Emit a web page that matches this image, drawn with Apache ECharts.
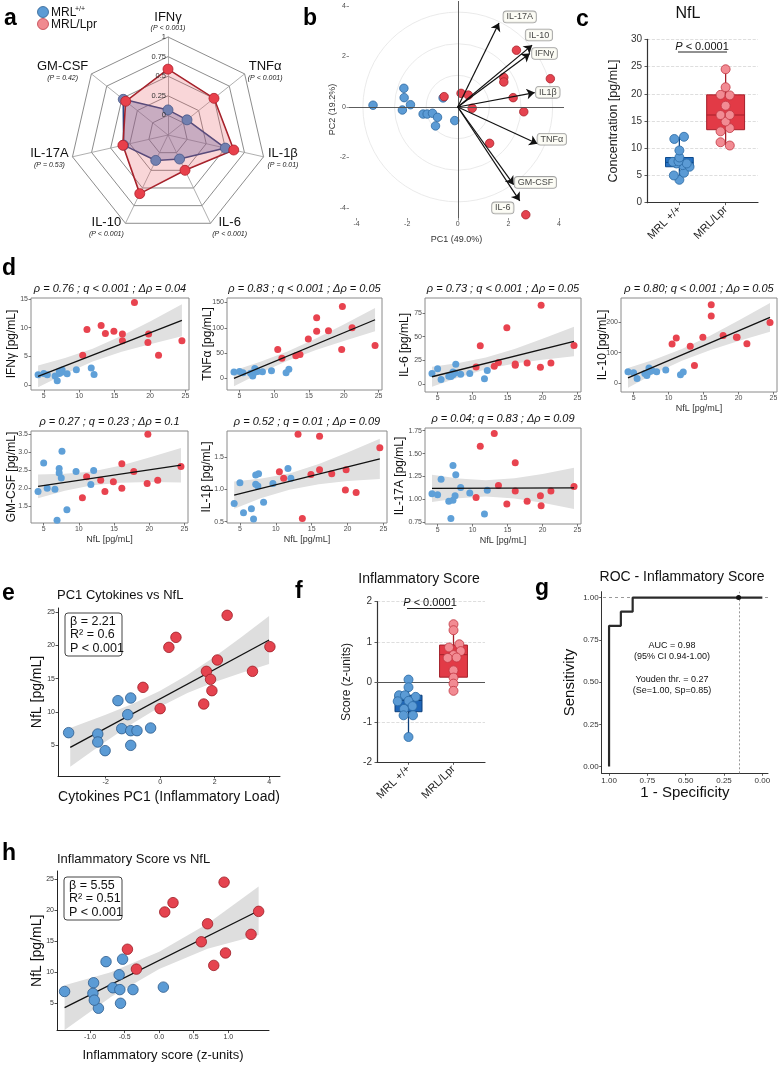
<!DOCTYPE html>
<html>
<head>
<meta charset="utf-8">
<script src="https://cdn.jsdelivr.net/npm/echarts@6/dist/echarts.min.js"></script>
<style>
  html, body { margin: 0; padding: 0; background: #fff; }
  #main { width: 779px; height: 1068px; }
</style>
</head>
<body>
<div id="main"></div>
<script>
// ---- a: radar (scaled 0-1) ----
const radarAxes = ['IFNγ', 'TNFα', 'IL-1β', 'IL-6', 'IL-10', 'IL-17A', 'GM-CSF']
const radarP = ['P < 0.001', 'P < 0.001', 'P = 0.01', 'P < 0.001', 'P < 0.001', 'P = 0.53', 'P = 0.42']
const radarMrl = [0.07, 0.06, 0.5, 0.09, 0.11, 0.33, 0.48]
const radarLpr = [0.59, 0.5, 0.61, 0.25, 0.58, 0.34, 0.44]
const radarTicks = [0, 0.25, 0.5, 0.75, 1]

// ---- b: PCA ----
const pcaMrl = [[-3.35, 0.07], [-2.13, 0.74], [-2.12, 0.37], [-1.87, 0.09], [-2.19, -0.12], [-1.37, -0.28], [-1.21, -0.28],
  [-1.0, -0.25], [-0.8, -0.41], [-0.88, -0.75], [-0.12, -0.54], [-0.58, 0.36]]
const pcaLpr = [[-0.54, 0.41], [0.13, 0.54], [0.42, 0.47], [0.57, -0.05], [2.32, 2.25], [1.82, 1.17], [1.82, 0.99],
  [2.19, 0.37], [2.61, -0.19], [1.26, -1.44], [2.69, -4.27], [3.66, 1.12]]
const loadNames = ['IL-17A', 'IL-10', 'IFNγ', 'IL1β', 'TNFα', 'GM-CSF', 'IL-6']
const loadXY = [[1.63, 3.33], [2.94, 2.45], [2.85, 2.12], [3.04, 0.57], [3.15, -1.46], [2.21, -3.08], [2.45, -3.72]]
const loadLabelXY = [[2.45, 3.57], [3.21, 2.85], [3.43, 2.12], [3.56, 0.58], [3.72, -1.28], [3.07, -2.99], [1.78, -4.0]]
const pcaRings = [1.25, 2.5, 3.75]
const pcaTicks = [-4, -2, 0, 2, 4]

// ---- c: NfL ----
const groups = ['MRL +/+', 'MRL/Lpr']
const nflMrl = [4.2, 5.0, 5.5, 6.6, 6.9, 7.2, 7.2, 7.5, 7.6, 8.3, 9.6, 11.7, 12.1]
const nflLpr = [10.5, 11.1, 13.1, 13.7, 14.9, 16.1, 16.1, 17.8, 19.7, 19.8, 21.2, 24.5]
const nflJitMrl = [0, -0.12, 0.1, 0.22, 0.07, 0.16, -0.06, -0.14, -0.02, 0, 0, -0.11, 0.1]
const nflJitLpr = [0.09, -0.11, -0.11, 0.09, 0, -0.11, 0.09, 0, 0.09, -0.11, 0, 0]
const nflBox = [[4.2, 6.6, 7.4, 8.3, 12.1], [10.5, 13.4, 16.1, 19.8, 24.5]]

// ---- d: cytokines vs NfL ----
const nflTicks = [5, 10, 15, 20, 25]
const bandX = [4.2, 8, 11.9, 16, 20, 24.5]
const ifngMrl = [1.75, 2.0, 1.75, 1.55, 0.7, 2.0, 2.4, 2.2, 2.6, 1.95, 2.65, 2.95, 1.8]
const ifngLpr = [5.2, 9.7, 10.4, 9.0, 9.4, 8.9, 7.7, 14.4, 7.4, 8.9, 5.2, 7.7]
const ifngFit = [1.5, 11.3]
const ifngLo = [-0.4, 1.9, 4.1, 5.8, 7.1, 8.5]
const ifngHi = [3.4, 4.7, 6.3, 8.6, 11.1, 14.1]
const tnfMrl = [12.5, 13.5, 11, 10, 4.5, 19.5, 12, 14.5, 13.5, 13, 15, 11, 18]
const tnfLpr = [57, 40, 45, 47, 78, 120, 93, 94, 57, 142, 100, 65]
const tnfFit = [0, 116]
const tnfLo = [-15.8, 10.4, 34.8, 55.9, 73.9, 93]
const tnfHi = [15.8, 33, 53.2, 78.9, 106.7, 139]
const il6Mrl = [11.5, 16.5, 5, 8.5, 8.3, 13, 10, 12, 21, 10.5, 11.5, 6, 14.5]
const il6Lpr = [18.3, 40.4, 19, 23, 59.5, 21.4, 20, 22.5, 18, 83, 22.5, 40.8]
const il6Fit = [8, 45]
const il6Lo = [-2.5, 7.3, 15.8, 21.8, 25.8, 29.5]
const il6Hi = [18.5, 22.5, 28.2, 37.2, 47.8, 60.5]
const il10Mrl = [38, 35, 16, 32, 26, 50, 38, 40, 43, 38, 44, 28, 37]
const il10Lpr = [128, 148, 121, 58, 150, 256, 219, 156, 150, 150, 129, 198]
const il10Fit = [18, 215]
const il10Lo = [-14, 31.9, 73.7, 109, 137.8, 168]
const il10Hi = [50, 77.9, 111.7, 155.8, 204.8, 262]
const gmMrl = [1.91, 2.70, 2.0, 1.97, 1.11, 2.55, 2.42, 2.28, 3.03, 1.40, 2.46, 2.1, 2.49]
const gmLpr = [1.73, 2.32, 2.22, 1.91, 2.18, 2.68, 2.0, 2.46, 2.13, 3.5, 2.22, 2.6]
const gmFit = [2.05, 2.64]
const gmLo = [1.72, 1.93, 2.08, 2.15, 2.17, 2.16]
const gmHi = [2.38, 2.40, 2.46, 2.63, 2.85, 3.12]
const il1bMrl = [0.78, 1.10, 0.64, 0.70, 0.54, 1.22, 1.08, 1.05, 1.24, 0.80, 1.09, 1.32, 1.17]
const il1bLpr = [1.27, 1.17, 1.85, 0.55, 1.23, 1.30, 1.82, 1.24, 0.99, 1.30, 0.95, 1.64]
const il1bFit = [0.91, 1.47]
const il1bLo = [0.70, 0.865, 0.995, 1.08, 1.13, 1.16]
const il1bHi = [1.12, 1.165, 1.245, 1.39, 1.57, 1.78]
const il17Mrl = [1.06, 1.05, 1.22, 0.98, 0.79, 1.37, 0.99, 1.04, 1.27, 1.13, 1.07, 0.84, 1.10]
const il17Lpr = [1.02, 1.58, 1.72, 1.15, 0.95, 1.40, 1.09, 0.98, 1.04, 0.93, 1.09, 1.14]
const il17Fit = [1.12, 1.125]
const il17Lo = [0.97, 1.012, 1.032, 1.01, 0.963, 0.895]
const il17Hi = [1.27, 1.228, 1.208, 1.23, 1.277, 1.345]

const dNames = ['IFNγ', 'TNFα', 'IL-6', 'IL-10', 'GM-CSF', 'IL-1β', 'IL-17A']
const dTitles = ['ρ = 0.76 ; q < 0.001 ; Δρ = 0.04', 'ρ = 0.83 ; q < 0.001 ; Δρ = 0.05', 'ρ = 0.73 ; q < 0.001 ; Δρ = 0.05',
  'ρ = 0.80; q < 0.001 ; Δρ = 0.05', 'ρ = 0.27 ; q = 0.23 ; Δρ = 0.1', 'ρ = 0.52 ; q = 0.01 ; Δρ = 0.09', 'ρ = 0.04; q = 0.83 ; Δρ = 0.09']
const dMrl = [ifngMrl, tnfMrl, il6Mrl, il10Mrl, gmMrl, il1bMrl, il17Mrl]
const dLpr = [ifngLpr, tnfLpr, il6Lpr, il10Lpr, gmLpr, il1bLpr, il17Lpr]
const dFit = [ifngFit, tnfFit, il6Fit, il10Fit, gmFit, il1bFit, il17Fit]
const dLo = [ifngLo, tnfLo, il6Lo, il10Lo, gmLo, il1bLo, il17Lo]
const dHi = [ifngHi, tnfHi, il6Hi, il10Hi, gmHi, il1bHi, il17Hi]
const dYRange = [[-0.9, 15.2], [-23, 159], [-8, 90.6], [-28, 278], [1.03, 3.59], [0.48, 1.9], [0.73, 1.78]]
const dYTicks = [[0, 5, 10, 15], [0, 50, 100, 150], [0, 25, 50, 75], [0, 100, 200], [1.5, 2, 2.5, 3, 3.5], [0.5, 1, 1.5], [0.75, 1, 1.25, 1.5, 1.75]]
const dDec = [0, 0, 0, 0, 1, 1, 2]

// ---- e: PC1 vs NfL ----
const pc1Mrl = [-3.36, -2.29, -2.29, -2.02, -1.55, -1.41, -1.19, -1.08, -1.08, -0.85, -1.08, -0.35]
const pc1MrlNfl = [6.9, 6.7, 5.5, 4.2, 11.7, 7.5, 9.6, 12.1, 7.2, 7.2, 5.0, 7.6]
const pc1Lpr = [-0.63, 0, 0.32, 0.58, 1.6, 1.7, 1.85, 1.9, 2.1, 2.46, 3.39, 4.03]
const pc1LprNfl = [13.7, 10.5, 19.7, 21.2, 11.2, 16.1, 14.9, 13.2, 17.8, 24.5, 16.1, 19.8]
const pc1Fit = [[-3.3, 4.7], [4.0, 20.8]]
const pc1BandX = [-3.3, -2, -1, 0, 1, 2, 3, 4]
const pc1Lo = [1.8, 5.57, 8.33, 10.8, 12.85, 14.5, 15.9, 17.2]
const pc1Hi = [7.6, 9.57, 11.23, 13.2, 15.55, 18.3, 21.3, 24.4]
const pc1Ticks = [-2, 0, 2, 4]

// ---- f: inflammatory score ----
const scoreMrl = [0.06, -0.13, -0.33, -0.33, -0.37, -0.47, -0.48, -0.6, -0.67, -0.83, -0.83, -1.37]
const scoreMrlJit = [0, 0, -0.21, -0.08, 0.16, 0, -0.24, 0.09, -0.1, -0.11, 0.1, 0]
const scoreLpr = [1.44, 1.29, 0.94, 0.86, 0.77, 0.67, 0.6, 0.61, 0.29, 0.11, -0.04, -0.22]
const scoreLprJit = [0, 0, 0.13, -0.1, 0.16, 0, -0.13, 0.07, 0, 0, 0, 0]
const scoreBox = [[-1.35, -0.74, -0.46, -0.33, 0.06], [-0.22, 0.12, 0.68, 0.92, 1.44]]

// ---- g: ROC ----
const rocSpec = [1, 1, 0.923, 0.923, 0.846, 0.846, 0]
const rocSens = [0, 0.833, 0.833, 0.917, 0.917, 1, 1]
const youdenX = 0.155
const rocTicks = [0, 0.25, 0.5, 0.75, 1]

// ---- h: score vs NfL ----
const hScoreMrl = [-1.37, -0.95, -0.96, -0.77, -0.58, -0.53, -0.67, -0.57, -0.38, 0.06, -0.88, -0.56, -0.94]
const hNflMrl = [6.9, 8.3, 6.6, 11.7, 9.6, 12.1, 7.5, 7.2, 7.2, 7.6, 4.2, 5.0, 5.5]
const hScoreLpr = [-0.46, -0.33, 0.08, 0.2, 0.61, 0.70, 0.79, 0.94, 0.96, 1.33, 1.44]
const hNflLpr = [13.7, 10.5, 19.7, 21.2, 14.9, 17.8, 11.1, 24.5, 13.1, 16.1, 19.8]
const hFit = [[-1.37, 4.3], [1.44, 19.9]]
const hBandX = [-1.37, -0.7, 0, 0.7, 1.44]
const hLo = [0.7, 6.0, 10.5, 13.8, 16.0]
const hHi = [7.9, 10.0, 13.3, 17.8, 23.8]
const hTicks = [-1, -0.5, 0, 0.5, 1]

// ---------------------------------------------------------------
const FONT = '"Liberation Sans", Arial, Helvetica, sans-serif'
const BLUE = '#5b9bd5'
const RED = '#e5434f'
const grid = [], xAxis = [], yAxis = [], series = [], graphic = []

function addGrid(rect, extra) {
  grid.push(Object.assign({ left: rect[0], top: rect[1], width: rect[2], height: rect[3], containLabel: false, outerBoundsMode: 'none' }, extra || {}))
  return grid.length - 1
}

function axis(gi, o) {
  const lc = o.lineColor || '#222'
  const a = {
    type: 'value', gridIndex: gi, min: o.min, max: o.max, inverse: !!o.inverse,
    name: o.name || '', nameLocation: 'middle', nameGap: o.nameGap || 15, nameMoveOverlap: false,
    nameTextStyle: Object.assign({ fontSize: 12, color: '#111', fontFamily: FONT }, o.nameStyle || {}),
    axisLine: { show: o.line !== false, onZero: false, lineStyle: { color: lc, width: o.lw || 1 } },
    axisTick: { show: true, length: o.tickLen || 2.5, lineStyle: { color: o.tickColor || lc, width: 0.8 } },
    axisLabel: { show: true, fontSize: o.fs || 7, color: o.labelColor || '#4d4d4d', margin: o.margin || 3, rotate: o.rotate || 0, fontFamily: FONT },
    splitLine: o.split ? { show: true, lineStyle: { color: '#d6d6d6', type: 'dashed', width: 0.8 } } : { show: false }
  }
  if (o.ticks) { a.axisTick.customValues = o.ticks; a.axisLabel.customValues = o.ticks }
  if (o.interval) a.interval = o.interval
  if (o.fmt) a.axisLabel.formatter = o.fmt
  return a
}

function dots(gi, data, color, size, border, z) {
  return {
    type: 'scatter', xAxisIndex: gi, yAxisIndex: gi, data: data, symbolSize: size, silent: true, z: z || 4,
    itemStyle: { color: color, opacity: 1, borderColor: border || color, borderWidth: border ? 0.8 : 0 }
  }
}

function band(gi, xs, lo, hi, color) {
  return {
    type: 'custom', xAxisIndex: gi, yAxisIndex: gi, silent: true, z: 1, data: [[xs[0], lo[0]]],
    renderItem: function (params, api) {
      const up = xs.map((x, i) => api.coord([x, hi[i]]))
      const dn = xs.map((x, i) => api.coord([x, lo[i]])).reverse()
      return { type: 'polygon', shape: { points: up.concat(dn) }, style: { fill: color } }
    }
  }
}

function fitLine(gi, pts, w) {
  return {
    type: 'line', xAxisIndex: gi, yAxisIndex: gi, data: pts, showSymbol: false, silent: true, z: 5,
    lineStyle: { color: '#111', width: w || 1.3 }
  }
}

function boxes(gi, stats, halfW, fills, strokes) {
  return {
    type: 'custom', xAxisIndex: gi, yAxisIndex: gi, silent: true, z: 2,
    data: stats.map((b, i) => [i].concat(b)),
    renderItem: function (params, api) {
      const i = api.value(0)
      const p = [1, 2, 3, 4, 5].map(d => api.coord([i, api.value(d)]))
      const hw = api.size([halfW[i], 0])[0]
      const cx = p[0][0]
      return {
        type: 'group', children: [
          { type: 'line', shape: { x1: cx, y1: p[0][1], x2: cx, y2: p[1][1] }, style: { stroke: strokes[i], lineWidth: 1.3 } },
          { type: 'line', shape: { x1: cx, y1: p[3][1], x2: cx, y2: p[4][1] }, style: { stroke: strokes[i], lineWidth: 1.3 } },
          { type: 'rect', shape: { x: cx - hw, y: p[3][1], width: 2 * hw, height: p[1][1] - p[3][1] }, style: { fill: fills[i], stroke: strokes[i], lineWidth: 1 } },
          { type: 'line', shape: { x1: cx - hw, y1: p[2][1], x2: cx + hw, y2: p[2][1] }, style: { stroke: strokes[i], lineWidth: 1 } }
        ]
      }
    }
  }
}

function txt(x, y, s, o) {
  graphic.push({
    type: 'text', x: x, y: y, z: 100, silent: true,
    style: Object.assign({ text: s, fontSize: 12, fontFamily: FONT, fill: '#111', align: 'left', verticalAlign: 'middle' }, o || {})
  })
}
function hline(x1, x2, y) {
  graphic.push({ type: 'line', z: 100, silent: true, shape: { x1: x1, y1: y, x2: x2, y2: y }, style: { stroke: '#222', lineWidth: 1 } })
}
function statBox(x, y, w, h, lines) {
  graphic.push({ type: 'rect', x: x, y: y, z: 99, silent: true, shape: { width: w, height: h, r: 3 }, style: { fill: '#fff', stroke: '#444', lineWidth: 1 } })
  txt(x + 5, y + h / 2 + 0.5, lines.join('\n'), { fontSize: 12.5, lineHeight: 13.5 })
}

// ---- panel letters ----
const letters = [['a', 4, 30], ['b', 303, 30], ['c', 576, 31], ['d', 2, 280], ['e', 2, 605], ['f', 295, 603], ['g', 535, 600], ['h', 2, 865]]
letters.forEach(l => txt(l[1], l[2], l[0], { fontSize: 23, fontWeight: 'bold', verticalAlign: 'bottom', fill: '#000' }))

// ---- a: radar ----
const order = [0, 6, 5, 4, 3, 2, 1]   // echarts places indicators counter-clockwise
const radarCenter = [168, 135], radarR = 98
const radar = {
  center: radarCenter, radius: radarR, startAngle: 90, splitNumber: 5, shape: 'polygon', nameGap: 4,
  indicator: order.map(i => ({ name: radarAxes[i], min: -0.25, max: 1 })),
  axisName: {
    formatter: function (name) { return '{n|' + name + '}\n{p|(' + radarP[radarAxes.indexOf(name)] + ')}' },
    rich: {
      n: { fontSize: 13, color: '#111', fontFamily: FONT, lineHeight: 14, align: 'center' },
      p: { fontSize: 7, color: '#222', fontStyle: 'italic', fontFamily: FONT, lineHeight: 9, align: 'center' }
    }
  },
  splitLine: { lineStyle: { color: '#6e6e6e', width: 0.8 } },
  splitArea: { show: false },
  axisLine: { lineStyle: { color: '#9a9a9a', width: 0.8 } },
  axisLabel: { show: false },
  axisTick: { show: false }
}
// one series, MRL/Lpr drawn after MRL+/+ so its fill lies on top
// (the MRL+/+ markers are seen through the pink fill, hence the muted blue)
series.push({
  type: 'radar', silent: true, z: 2, symbol: 'circle', symbolSize: 10,
  data: [{
    name: 'MRL+/+', value: order.map(i => radarMrl[i]),
    lineStyle: { color: '#24407a', width: 1.6 },
    itemStyle: { color: '#7280b0', borderColor: '#4a5888', borderWidth: 0.8 },
    areaStyle: { color: 'rgba(70,95,170,0.5)' }
  }, {
    name: 'MRL/Lpr', value: order.map(i => radarLpr[i]),
    lineStyle: { color: '#9e1b24', width: 1.6 },
    itemStyle: { color: '#e8404b', borderColor: '#b0202b', borderWidth: 0.8 },
    areaStyle: { color: 'rgba(232,90,100,0.36)' }
  }]
})
radarTicks.forEach(v => txt(166, radarCenter[1] - (0.2 + 0.8 * v) * radarR, String(v), { fontSize: 7.5, align: 'right', fill: '#333' }))
// legend
graphic.push({ type: 'circle', z: 100, shape: { cx: 43, cy: 12, r: 5.5 }, style: { fill: BLUE, stroke: '#2f5f90', lineWidth: 0.8 } })
graphic.push({ type: 'circle', z: 100, shape: { cx: 43, cy: 24, r: 5.5 }, style: { fill: '#f08a90', stroke: '#c0404a', lineWidth: 0.8 } })
txt(51, 13, 'MRL', { fontSize: 12 })
txt(75, 9, '+/+', { fontSize: 7 })
txt(51, 25, 'MRL/Lpr', { fontSize: 12 })

// ---- b: PCA ----
const gb = addGrid([349, 1, 215, 217])
xAxis.push(axis(gb, { min: -4.3, max: 4.2, ticks: pcaTicks, line: false, tickColor: '#777', name: 'PC1 (49.0%)', nameGap: 17, nameStyle: { fontSize: 9, color: '#333' } }))
yAxis.push(axis(gb, { min: -4.4, max: 4.2, ticks: pcaTicks, line: false, tickColor: '#777', name: 'PC2 (19.2%)', nameGap: 12, nameStyle: { fontSize: 9, color: '#333' } }))
series.push({
  type: 'custom', xAxisIndex: gb, yAxisIndex: gb, silent: true, z: 1, data: pcaRings.map(r => [r, 0]),
  renderItem: function (params, api) {
    const c = api.coord([0, 0])
    const r = api.size([api.value(0), 0])[0]
    return { type: 'circle', shape: { cx: c[0], cy: c[1], r: r }, style: { fill: 'none', stroke: '#e4e4e4', lineWidth: 0.8 } }
  }
})
const pcaBlue = dots(gb, pcaMrl, BLUE, 8.5, '#2e6aa1', 4)
pcaBlue.markLine = {
  silent: true, symbol: ['none', 'none'], label: { show: false }, animation: false,
  lineStyle: { color: '#4a4a4a', type: 'solid', width: 0.9 }, data: [{ xAxis: 0 }, { yAxis: 0 }]
}
series.push(pcaBlue)
series.push(dots(gb, pcaLpr, RED, 8.5, '#a8232c', 4))
series.push({
  type: 'lines', coordinateSystem: 'cartesian2d', xAxisIndex: gb, yAxisIndex: gb, silent: true, z: 5,
  symbol: ['none', 'arrow'], symbolSize: 8, lineStyle: { color: '#111', width: 1.2, opacity: 1 },
  data: loadXY.map(p => ({ coords: [[0, 0], p] }))
})
series.push({
  type: 'scatter', xAxisIndex: gb, yAxisIndex: gb, symbolSize: 1, silent: true, z: 6,
  itemStyle: { color: 'rgba(0,0,0,0)' },
  data: loadLabelXY.map((p, i) => ({ value: p, name: loadNames[i] })),
  label: {
    show: true, position: 'inside', formatter: '{b}', fontSize: 9, color: '#111', fontFamily: FONT,
    backgroundColor: '#fbfbf3', borderColor: '#8a8a8a', borderWidth: 0.8, borderRadius: 3, padding: [1, 3, 1, 3]
  }
})

// ---- c: NfL box ----
const gc = addGrid([647, 39.3, 111, 163.4])
xAxis.push(axis(gc, { min: -0.7, max: 1.7, ticks: [0, 1], fmt: v => groups[Math.round(v)], rotate: 45, fs: 11, labelColor: '#222', lineColor: '#333', lw: 1.2, margin: 5 }))
yAxis.push(axis(gc, { min: 0, max: 30, interval: 5, fs: 10, labelColor: '#333', lineColor: '#333', lw: 1.2, split: true, margin: 5,
  name: 'Concentration [pg/mL]', nameGap: 27, nameStyle: { fontSize: 12.5, color: '#222' } }))
series.push(boxes(gc, nflBox, [0.3, 0.41], ['#2470c2', '#e23a46'], ['#0d4a8c', '#a51f2a']))
series.push(dots(gc, nflMrl.map((v, i) => [nflJitMrl[i], v]), BLUE, 9, '#2b6aa3', 5))
series.push(dots(gc, nflLpr.map((v, i) => [1 + nflJitLpr[i], v]), '#f28b93', 9, '#c23641', 5))
txt(688, 14, 'NfL', { fontSize: 16, align: 'center', fill: '#111' })
txt(702, 46.5, '{i|P} < 0.0001', { fontSize: 11, align: 'center', rich: { i: { fontStyle: 'italic', fontSize: 11, fontFamily: FONT } } })
hline(678, 727, 52)

// ---- d: cytokine scatter panels ----
const dRects = [[31, 298, 158, 92], [227, 298, 155, 92], [425, 298, 156, 94], [621, 298, 156, 94], [31, 431, 157, 92], [227, 431, 160, 92], [425, 428, 156, 96]]
const dNameGap = [13, 13, 14, 12, 13, 14, 19]
const dXName = [false, false, false, true, true, true, true]
dNames.forEach((nm, k) => {
  const r = dRects[k]
  const gi = addGrid(r, { show: true, borderColor: '#8a8a8a', borderWidth: 1 })
  xAxis.push(axis(gi, { min: 3.2, max: 25.5, ticks: nflTicks, line: false, tickColor: '#555',
    name: dXName[k] ? 'NfL [pg/mL]' : '', nameGap: 12, nameStyle: { fontSize: 9, color: '#333' } }))
  yAxis.push(axis(gi, { min: dYRange[k][0], max: dYRange[k][1], ticks: dYTicks[k], line: false, tickColor: '#555',
    fmt: v => v.toFixed(dDec[k]), name: nm + ' [pg/mL]', nameGap: dNameGap[k], nameStyle: { fontSize: 12, color: '#111' } }))
  series.push(band(gi, bandX, dLo[k], dHi[k], '#e0e0e0'))
  series.push(dots(gi, nflMrl.map((x, i) => [x, dMrl[k][i]]), '#5fa0d8', 7))
  series.push(dots(gi, nflLpr.map((x, i) => [x, dLpr[k][i]]), '#e8434f', 7))
  series.push(fitLine(gi, [[4.2, dFit[k][0]], [24.5, dFit[k][1]]]))
  txt(r[0] + r[2] / 2, r[1] - 9, dTitles[k], { fontSize: 11, fontStyle: 'italic', align: 'center' })
})

// ---- e: PC1 vs NfL ----
const ge = addGrid([58, 608, 222, 168])
xAxis.push(axis(ge, { min: -3.75, max: 4.4, ticks: pc1Ticks, labelColor: '#333', name: 'Cytokines PC1 (Inflammatory Load)', nameGap: 14, nameStyle: { fontSize: 14 } }))
yAxis.push(axis(ge, { min: 0.4, max: 25.6, ticks: nflTicks, labelColor: '#333', name: 'NfL [pg/mL]', nameGap: 14, nameStyle: { fontSize: 14 } }))
series.push(band(ge, pc1BandX, pc1Lo, pc1Hi, '#dedede'))
series.push(fitLine(ge, pc1Fit))
series.push(dots(ge, pc1Mrl.map((x, i) => [x, pc1MrlNfl[i]]), BLUE, 10.5, '#2d5b8a', 6))
series.push(dots(ge, pc1Lpr.map((x, i) => [x, pc1LprNfl[i]]), RED, 10.5, '#9c1c24', 6))
txt(57, 595, 'PC1 Cytokines vs NfL', { fontSize: 13 })
statBox(65, 613, 57, 43, ['β = 2.21', 'R² = 0.6', 'P < 0.001'])

// ---- f: inflammatory score box ----
const gf = addGrid([377, 601.7, 108, 160.6])
xAxis.push(axis(gf, { min: -0.7, max: 1.7, ticks: [0, 1], fmt: v => groups[Math.round(v)], rotate: 45, fs: 11, labelColor: '#222', lineColor: '#333', lw: 1.2, margin: 5 }))
yAxis.push(axis(gf, { min: -2, max: 2, interval: 1, fs: 10, labelColor: '#333', lineColor: '#333', lw: 1.2, split: true, margin: 5,
  name: 'Score (z-units)', nameGap: 24, nameStyle: { fontSize: 12, color: '#222' } }))
const fBox = boxes(gf, scoreBox, [0.3, 0.31], ['#1f66b8', '#e23a46'], ['#0d3f7a', '#a3202a'])
fBox.markLine = {
  silent: true, symbol: ['none', 'none'], label: { show: false }, animation: false,
  lineStyle: { color: '#555', type: 'solid', width: 1.2 }, data: [{ yAxis: 0 }]
}
series.push(fBox)
series.push(dots(gf, scoreMrl.map((v, i) => [scoreMrlJit[i], v]), BLUE, 9, '#2b6aa3', 5))
series.push(dots(gf, scoreLpr.map((v, i) => [1 + scoreLprJit[i], v]), '#f28b93', 9, '#c23641', 5))
txt(419, 579, 'Inflammatory Score', { fontSize: 14, align: 'center' })
txt(430, 603, '{i|P} < 0.0001', { fontSize: 11, align: 'center', rich: { i: { fontStyle: 'italic', fontSize: 11, fontFamily: FONT } } })
hline(407, 453, 608.5)

// ---- g: ROC ----
const gg = addGrid([601.7, 591.7, 166.3, 181.6])
xAxis.push(axis(gg, { min: -0.037, max: 1.048, inverse: true, ticks: rocTicks, fmt: v => v.toFixed(2), fs: 8, labelColor: '#333', lineColor: '#333',
  name: '1 - Specificity', nameGap: 12, nameStyle: { fontSize: 15 } }))
yAxis.push(axis(gg, { min: -0.04, max: 1.035, ticks: rocTicks, fmt: v => v.toFixed(2), fs: 8, labelColor: '#333', lineColor: '#333',
  name: 'Sensitivity', nameGap: 24, nameStyle: { fontSize: 15 } }))
series.push({
  type: 'line', xAxisIndex: gg, yAxisIndex: gg, data: rocSpec.map((x, i) => [x, rocSens[i]]), showSymbol: false, silent: true, z: 5,
  lineStyle: { color: '#2a2a2a', width: 2.2 },
  markLine: {
    silent: true, symbol: ['none', 'none'], label: { show: false }, animation: false,
    data: [
      { yAxis: 1, lineStyle: { color: '#999', type: [3, 3], width: 1 } },
      { xAxis: youdenX, lineStyle: { color: '#999', type: [2, 2], width: 1 } }
    ]
  }
})
series.push(dots(gg, [[youdenX, 1]], '#111', 5, null, 6))
txt(682, 577, 'ROC - Inflammatory Score', { fontSize: 14, align: 'center' })
txt(672, 646, 'AUC = 0.98', { fontSize: 9, align: 'center' })
txt(672, 657, '(95% CI 0.94-1.00)', { fontSize: 9, align: 'center' })
txt(672, 680, 'Youden thr. = 0.27', { fontSize: 9, align: 'center' })
txt(672, 691, '(Se=1.00, Sp=0.85)', { fontSize: 9, align: 'center' })

// ---- h: score vs NfL ----
const gh = addGrid([57, 871, 212, 159.6])
xAxis.push(axis(gh, { min: -1.48, max: 1.59, ticks: hTicks, fmt: v => v.toFixed(1), labelColor: '#333', name: 'Inflammatory score (z-units)', nameGap: 18, nameStyle: { fontSize: 13 } }))
yAxis.push(axis(gh, { min: 0.6, max: 26.3, ticks: nflTicks, labelColor: '#333', name: 'NfL [pg/mL]', nameGap: 13, nameStyle: { fontSize: 14 } }))
series.push(band(gh, hBandX, hLo, hHi, '#dedede'))
series.push(fitLine(gh, hFit))
series.push(dots(gh, hScoreMrl.map((x, i) => [x, hNflMrl[i]]), BLUE, 10.5, '#2d5b8a', 6))
series.push(dots(gh, hScoreLpr.map((x, i) => [x, hNflLpr[i]]), RED, 10.5, '#9c1c24', 6))
txt(57, 859, 'Inflammatory Score vs NfL', { fontSize: 13 })
statBox(64, 877, 58, 43, ['β = 5.55', 'R² = 0.51', 'P < 0.001'])

const chart = echarts.init(document.getElementById('main'), null, { renderer: 'canvas' })
chart.setOption({
  animation: false,
  backgroundColor: '#fff',
  textStyle: { fontFamily: FONT },
  radar: radar,
  grid: grid,
  xAxis: xAxis,
  yAxis: yAxis,
  series: series,
  graphic: graphic
})
</script>
</body>
</html>
